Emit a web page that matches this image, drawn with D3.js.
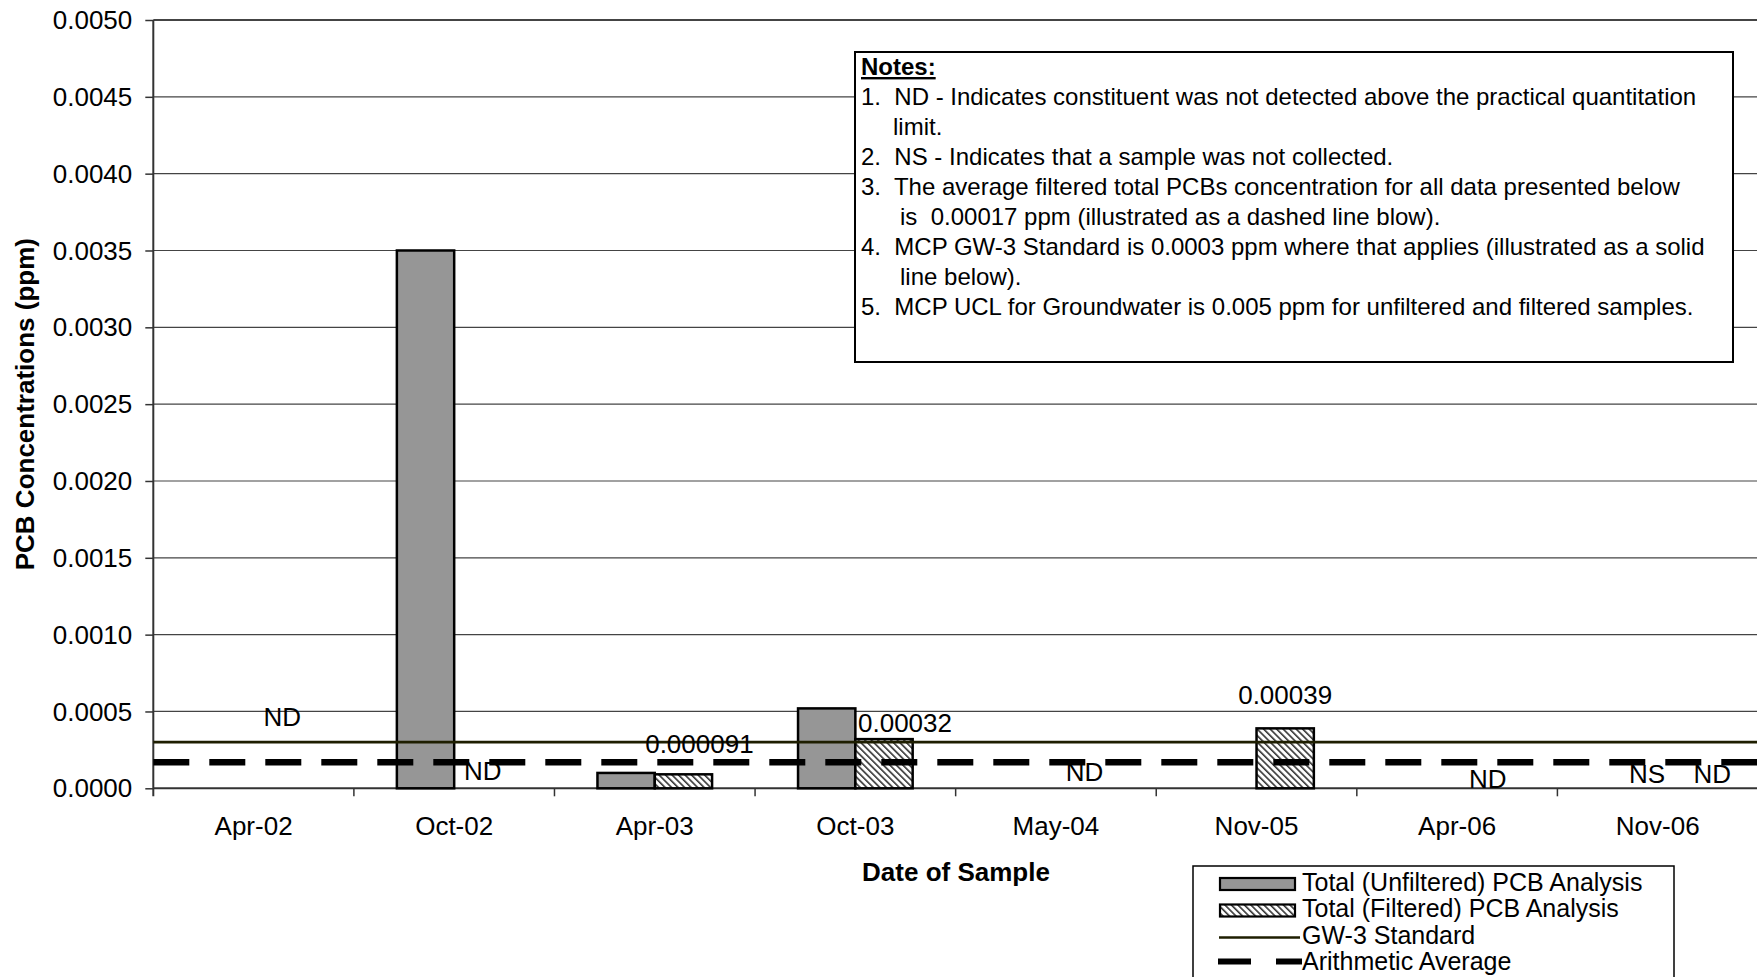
<!DOCTYPE html>
<html>
<head>
<meta charset="utf-8">
<script src="https://cdn.jsdelivr.net/npm/d3@7"></script>
<style>
  html, body { margin: 0; padding: 0; background: #fff; }
  svg { display: block; font-family: "Liberation Sans", Arial, sans-serif; }
</style>
</head>
<body>
<svg id="chart" width="1757" height="977"></svg>
<script>
// ---------- data ----------
const categories = ["Apr-02", "Oct-02", "Apr-03", "Oct-03", "May-04", "Nov-05", "Apr-06", "Nov-06"];
const unfilteredValues = [null, 0.0035, 0.0001, 0.00052, null, null, null, null];
const filteredValues   = [null, null, 0.000091, 0.00032, null, 0.00039, null, null];
const seriesNames = ["Total (Unfiltered) PCB Analysis", "Total (Filtered) PCB Analysis"];
const gw3Standard = 0.0003;
const arithmeticAverage = 0.00017;
const yTickValues = [0, 0.0005, 0.001, 0.0015, 0.002, 0.0025, 0.003, 0.0035, 0.004, 0.0045, 0.005];
const labelCategories = ["Apr-02", "Oct-02", "Apr-03", "Oct-03", "May-04", "Nov-05", "Apr-06", "Nov-06", "Nov-06"];
const labelSeries     = [1, 1, 1, 1, 1, 1, 1, 0, 1];
const labelTexts      = ["ND", "ND", "0.000091", "0.00032", "ND", "0.00039", "ND", "NS", "ND"];
const notesLines = [
  "1.  ND - Indicates constituent was not detected above the practical quantitation",
  "limit.",
  "2.  NS - Indicates that a sample was not collected.",
  "3.  The average filtered total PCBs concentration for all data presented below",
  "is  0.00017 ppm (illustrated as a dashed line blow).",
  "4.  MCP GW-3 Standard is 0.0003 ppm where that applies (illustrated as a solid",
  "line below).",
  "5.  MCP UCL for Groundwater is 0.005 ppm for unfiltered and filtered samples."
];
const legendLabels = ["Total (Unfiltered) PCB Analysis", "Total (Filtered) PCB Analysis", "GW-3 Standard", "Arithmetic Average"];

// ---------- layout ----------
// label placement (baseline value in axis units, horizontal nudge in px)
const labelBaseAt = [0.000405, 0.000054, 0.000229, 0.000368, 0.000045, 0.000548, 0.000002, 0.000036, 0.000036];
const labelNudge  = [0, 0, 16, 21, 0, 0, 2, 18, 26];
const notesIndent = [0, 32, 0, 0, 39, 0, 39, 0];

const svg = d3.select("#chart");
const pLeft = 153.3, pRight = 1758, pTop = 20, pBottom = 788.3;

const x = d3.scaleBand().domain(categories).range([pLeft, pRight]).paddingInner(0).paddingOuter(0);
const xs = d3.scaleBand().domain([0, 1]).range([0, x.bandwidth()]).paddingInner(0).paddingOuter(0.75);
const y = d3.scaleLinear().domain([0, 0.005]).range([pBottom, pTop]);

// hatch pattern (downward diagonal)
const defs = svg.append("defs");
const pat = defs.append("pattern").attr("id", "hatch").attr("patternUnits", "userSpaceOnUse")
  .attr("width", 4.6).attr("height", 4.6).attr("patternTransform", "rotate(-45)");
pat.append("rect").attr("width", 4.6).attr("height", 4.6).attr("fill", "#fff");
pat.append("rect").attr("x", 0).attr("y", 0).attr("width", 1.6).attr("height", 4.6).attr("fill", "#333");

// gridlines
svg.append("g").selectAll("line").data(yTickValues.filter(v => v > 0)).join("line")
  .attr("x1", pLeft).attr("x2", 1757).attr("y1", d => y(d)).attr("y2", d => y(d))
  .attr("stroke", "#444").attr("stroke-width", d => d === 0.005 ? 1.8 : 1.2);

// y axis
const yAxis = d3.axisLeft(y).tickValues(yTickValues).tickFormat(d3.format(".4f")).tickSize(8).tickPadding(13);
const gy = svg.append("g").attr("transform", `translate(${pLeft},0)`).call(yAxis);
gy.select(".domain").remove();
gy.selectAll(".tick line").attr("stroke", "#333").attr("stroke-width", 1.5);
gy.selectAll(".tick text").attr("font-size", 26).attr("fill", "#000")
  .attr("font-family", '"Liberation Sans", Arial, sans-serif').attr("dy", "0.33em");
svg.append("line").attr("x1", pLeft).attr("x2", pLeft).attr("y1", pTop).attr("y2", pBottom + 8)
  .attr("stroke", "#333").attr("stroke-width", 2);

// x axis
svg.append("line").attr("x1", pLeft).attr("x2", 1757).attr("y1", pBottom).attr("y2", pBottom)
  .attr("stroke", "#333").attr("stroke-width", 2);
svg.append("g").selectAll("line").data(categories.slice(1)).join("line")
  .attr("x1", d => x(d)).attr("x2", d => x(d)).attr("y1", pBottom).attr("y2", pBottom + 8)
  .attr("stroke", "#333").attr("stroke-width", 1.5);
svg.append("g").selectAll("text").data(categories).join("text")
  .attr("x", d => x(d) + x.bandwidth() / 2).attr("y", pBottom + 47)
  .attr("text-anchor", "middle").attr("font-size", 26).text(d => d);

// axis titles
svg.append("text").attr("transform", `translate(34,${(pTop + pBottom) / 2}) rotate(-90)`)
  .attr("text-anchor", "middle").attr("font-size", 26).attr("font-weight", "bold")
  .text("PCB Concentrations (ppm)");
svg.append("text").attr("x", 956).attr("y", 881).attr("text-anchor", "middle")
  .attr("font-size", 26).attr("font-weight", "bold").text("Date of Sample");

// bars
const barData = [];
categories.forEach((c, i) => {
  if (unfilteredValues[i] != null) barData.push({ c, s: 0, v: unfilteredValues[i] });
  if (filteredValues[i] != null) barData.push({ c, s: 1, v: filteredValues[i] });
});
svg.append("g").selectAll("rect").data(barData).join("rect")
  .attr("x", d => x(d.c) + xs(d.s)).attr("width", xs.bandwidth())
  .attr("y", d => y(d.v)).attr("height", d => y(0) - y(d.v))
  .attr("fill", d => d.s === 0 ? "#969696" : "url(#hatch)")
  .attr("stroke", "#000").attr("stroke-width", 2.5);

// reference lines
svg.append("line").attr("x1", pLeft).attr("x2", 1757).attr("y1", y(gw3Standard)).attr("y2", y(gw3Standard))
  .attr("stroke", "#1e1e00").attr("stroke-width", 2.8);
svg.append("line").attr("x1", pLeft).attr("x2", 1757).attr("y1", y(arithmeticAverage)).attr("y2", y(arithmeticAverage))
  .attr("stroke", "#000").attr("stroke-width", 6.5).attr("stroke-dasharray", "36,20");

// data labels
svg.append("g").selectAll("text").data(labelTexts).join("text")
  .attr("x", (d, i) => x(labelCategories[i]) + xs(labelSeries[i]) + xs.bandwidth() / 2 + labelNudge[i])
  .attr("y", (d, i) => y(labelBaseAt[i]))
  .attr("text-anchor", "middle").attr("font-size", 26).text(d => d);

// notes box
const nb = { x: 855, y: 52, w: 878, h: 310 };
svg.append("rect").attr("x", nb.x).attr("y", nb.y).attr("width", nb.w).attr("height", nb.h)
  .attr("fill", "#fff").attr("stroke", "#000").attr("stroke-width", 2);
svg.append("text").attr("x", 861).attr("y", 75).attr("font-size", 24).attr("font-weight", "bold")
  .attr("text-decoration", "underline").text("Notes:");
svg.append("g").selectAll("text").data(notesLines).join("text")
  .attr("x", (d, i) => 861 + notesIndent[i]).attr("y", (d, i) => 105 + i * 30)
  .attr("font-size", 24).style("white-space", "pre").text(d => d);

// legend
const lg = { x: 1193, y: 866, w: 481, h: 140 };
svg.append("rect").attr("x", lg.x).attr("y", lg.y).attr("width", lg.w).attr("height", lg.h)
  .attr("fill", "#fff").attr("stroke", "#000").attr("stroke-width", 1.5);
const rowBase = [890.5, 917, 943.5, 969.5];
const lgItems = svg.append("g").selectAll("g").data(legendLabels).join("g");
lgItems.append("text").attr("x", 1302).attr("y", (d, i) => rowBase[i]).attr("font-size", 25).text(d => d);
lgItems.filter((d, i) => i < 2).append("rect")
  .attr("x", 1220).attr("width", 75).attr("y", (d, i) => rowBase[i] - 12.5).attr("height", 12)
  .attr("fill", (d, i) => i === 0 ? "#969696" : "url(#hatch)").attr("stroke", "#000").attr("stroke-width", 2.2);
svg.append("line").attr("x1", 1219).attr("x2", 1300).attr("y1", rowBase[2] - 6).attr("y2", rowBase[2] - 6)
  .attr("stroke", "#1e1e00").attr("stroke-width", 2.5);
svg.append("line").attr("x1", 1218).attr("x2", 1302).attr("y1", rowBase[3] - 8).attr("y2", rowBase[3] - 8)
  .attr("stroke", "#000").attr("stroke-width", 6).attr("stroke-dasharray", "33,25");
</script>
</body>
</html>
